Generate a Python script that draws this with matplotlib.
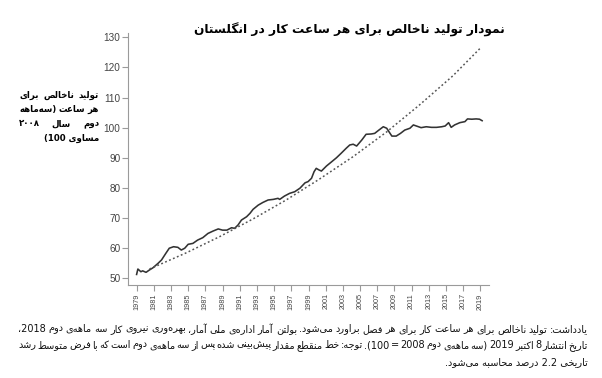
import re
import matplotlib
matplotlib.use('Agg')
import matplotlib.pyplot as plt

# output per hour, quarterly (Q2 2008 = 100)
years = [1979.0, 1979.15, 1979.5, 1979.7, 1980.1, 1980.5, 1980.9, 1981.5, 1981.9, 1982.4,
         1982.8, 1983.3, 1983.8, 1984.2, 1984.6, 1985.0, 1985.55, 1986.1, 1986.7, 1987.3,
         1987.9, 1988.5, 1989.0, 1989.5, 1990.05, 1990.4, 1990.8, 1991.2, 1991.8, 1992.2,
         1992.55, 1993.15, 1993.7, 1994.3, 1994.9, 1995.45, 1995.65, 1996.2, 1996.8, 1997.4,
         1998.0, 1998.6, 1998.95, 1999.35, 1999.65, 1999.9, 2000.2, 2000.5, 2001.1, 2001.7,
         2002.25, 2002.8, 2003.4, 2003.8, 2004.2, 2004.6, 2005.2, 2005.7, 2006.3, 2006.7,
         2007.1, 2007.7, 2008.1, 2008.35, 2008.7, 2009.2, 2009.7, 2010.2, 2010.8, 2011.2,
         2011.55, 2012.1, 2012.7, 2013.3, 2013.9, 2014.5, 2014.9, 2015.3, 2015.6, 2016.0,
         2016.6, 2017.2, 2017.5, 2018.0, 2018.5, 2018.9, 2019.2]
output_per_hour = [51.3, 53.1, 52.2, 52.5, 52.0, 52.8, 53.5, 55.0, 56.1, 58.3,
                   60.0, 60.5, 60.3, 59.4, 60.0, 61.3, 61.6, 62.7, 63.5, 64.9,
                   65.7, 66.4, 66.0, 66.0, 66.8, 66.6, 67.7, 69.35, 70.45, 71.6,
                   72.9, 74.3, 75.2, 76.0, 76.2, 76.55, 76.2, 77.3, 78.2, 78.75,
                   79.9, 81.7, 82.1, 83.2, 85.4, 86.5, 86.0, 85.6, 87.3, 88.7,
                   90.0, 91.5, 93.2, 94.25, 94.5, 93.9, 95.9, 97.8, 97.9, 98.1,
                   99.0, 100.3, 99.8, 98.7, 97.2, 97.2, 98.1, 99.2, 99.8, 100.9,
                   100.55, 100.0, 100.3, 100.1, 100.1, 100.3, 100.55, 101.65, 100.1, 100.9,
                   101.65, 102.0, 102.9, 102.8, 102.9, 102.8, 102.3]

# dotted trend line (2.2% historical growth)
trend_years = [1980.5, 1984.8, 1988.7, 1992.6, 1996.4, 2000.2, 2004.2, 2008.1, 2011.9, 2015.8, 2019.1]
trend_values = [53.1, 58.5, 63.9, 69.8, 76.0, 82.8, 90.4, 98.6, 107.5, 117.2, 126.7]

tick_years = list(range(1979, 2020, 2))
y_ticks = list(range(50, 131, 10))

title = 'نمودار تولید ناخالص برای هر ساعت کار در انگلستان'
ylabel_lines = ['تولید ناخالص برای', 'هر ساعت (سه‌ماهه', 'دوم سال ۲۰۰۸', 'مساوی 100)']
note_lines = [
    'یادداشت: تولید ناخالص برای هر ساعت کار برای هر فصل براورد می‌شود. بولتن آمار اداره‌ی ملی آمار، بهره‌وری نیروی کار سه ماهه‌ی دوم 2018،',
    'تاریخ انتشار 8 اکتبر 2019 (سه ماهه‌ی دوم 2008 = 100). توجه: خط منقطع مقدار پیش‌بینی شده پس از سه ماهه‌ی دوم است که با فرض متوسط رشد',
    'تاریخی 2.2 درصد محاسبه می‌شود.',
]

# presentation forms: isolated, final, initial, medial (None = does not join forward)
FORMS = {
    'ا': (0xFE8D, 0xFE8E, None, None), 'آ': (0xFE81, 0xFE82, None, None),
    'ب': (0xFE8F, 0xFE90, 0xFE91, 0xFE92), 'پ': (0xFB56, 0xFB57, 0xFB58, 0xFB59),
    'ت': (0xFE95, 0xFE96, 0xFE97, 0xFE98), 'ث': (0xFE99, 0xFE9A, 0xFE9B, 0xFE9C),
    'ج': (0xFE9D, 0xFE9E, 0xFE9F, 0xFEA0), 'چ': (0xFB7A, 0xFB7B, 0xFB7C, 0xFB7D),
    'ح': (0xFEA1, 0xFEA2, 0xFEA3, 0xFEA4), 'خ': (0xFEA5, 0xFEA6, 0xFEA7, 0xFEA8),
    'د': (0xFEA9, 0xFEAA, None, None), 'ذ': (0xFEAB, 0xFEAC, None, None),
    'ر': (0xFEAD, 0xFEAE, None, None), 'ز': (0xFEAF, 0xFEB0, None, None),
    'ژ': (0xFB8A, 0xFB8B, None, None),
    'س': (0xFEB1, 0xFEB2, 0xFEB3, 0xFEB4), 'ش': (0xFEB5, 0xFEB6, 0xFEB7, 0xFEB8),
    'ص': (0xFEB9, 0xFEBA, 0xFEBB, 0xFEBC), 'ض': (0xFEBD, 0xFEBE, 0xFEBF, 0xFEC0),
    'ط': (0xFEC1, 0xFEC2, 0xFEC3, 0xFEC4), 'ظ': (0xFEC5, 0xFEC6, 0xFEC7, 0xFEC8),
    'ع': (0xFEC9, 0xFECA, 0xFECB, 0xFECC), 'غ': (0xFECD, 0xFECE, 0xFECF, 0xFED0),
    'ف': (0xFED1, 0xFED2, 0xFED3, 0xFED4), 'ق': (0xFED5, 0xFED6, 0xFED7, 0xFED8),
    'ک': (0xFB8E, 0xFB8F, 0xFB90, 0xFB91), 'گ': (0xFB92, 0xFB93, 0xFB94, 0xFB95),
    'ل': (0xFEDD, 0xFEDE, 0xFEDF, 0xFEE0), 'م': (0xFEE1, 0xFEE2, 0xFEE3, 0xFEE4),
    'ن': (0xFEE5, 0xFEE6, 0xFEE7, 0xFEE8), 'ه': (0xFEE9, 0xFEEA, 0xFEEB, 0xFEEC),
    'و': (0xFEED, 0xFEEE, None, None), 'ی': (0xFBFC, 0xFBFD, 0xFBFE, 0xFBFF),
}
MIRROR = {'(': ')', ')': '('}


def shape(s):
    out = []
    for i, ch in enumerate(s):
        if ch not in FORMS:
            if ch != '\u200c':
                out.append(ch)
            continue
        prev = s[i - 1] if i else ''
        nxt = s[i + 1] if i + 1 < len(s) else ''
        a = prev in FORMS and FORMS[prev][2] is not None
        b = nxt in FORMS and FORMS[ch][2] is not None
        iso, fin, ini, med = FORMS[ch]
        out.append(chr(med if a and b else fin if a else ini if b else iso))
    return ''.join(out)


def visual(s):
    tokens = re.findall(r'[0-9\u06f0-\u06f9]+(?:\.[0-9]+)*|.', shape(s))
    return ''.join(MIRROR.get(t, t) for t in reversed(tokens))


def justified(fig, line, x0, x1, y, justify=True, **kw):
    # x0, x1, y in pixels from top-left
    W, H = fig.bbox.width, fig.bbox.height
    words = visual(line).split(' ')
    if not justify or len(words) < 2:
        fig.text(x1 / W, 1 - y / H, ' '.join(words), ha='right', va='center', **kw)
        return
    r = fig.canvas.get_renderer()
    texts = [fig.text(0, 1 - y / H, w, ha='left', va='center', **kw) for w in words]
    widths = [t.get_window_extent(r).width for t in texts]
    gap = (x1 - x0 - sum(widths)) / (len(words) - 1)
    pos = x0
    for t, w in zip(texts, widths):
        t.set_x(pos / W)
        pos += w + gap


fig = plt.figure(figsize=(6.02, 3.78), dpi=100)
ax = fig.add_axes([128 / 602, 1 - 285 / 378, (489 - 128) / 602, (285 - 33) / 378])

ax.plot(years, output_per_hour, color='#333333', lw=1.15)
ax.plot(trend_years, trend_values, color='#555555', lw=1.1, ls=(0, (1.2, 1.6)))

ax.set_xlim(1978, 2020)
ax.set_ylim(47.8, 131.4)
ax.set_xticks(tick_years)
ax.set_xticklabels([str(y) for y in tick_years], rotation=90, fontsize=5.2,
                   family='Liberation Sans', color='#444444')
ax.set_yticks(y_ticks)
ax.set_yticklabels([str(v) for v in y_ticks], fontsize=7.2,
                   family='Liberation Sans', color='#444444')
for side in ['top', 'right']:
    ax.spines[side].set_visible(False)
for side in ['left', 'bottom']:
    ax.spines[side].set_color('#9a9a9a')
    ax.spines[side].set_linewidth(0.8)
ax.tick_params(colors='#9a9a9a', length=4, width=0.8, labelcolor='#444444')
ax.tick_params(axis='x', pad=2)
ax.tick_params(axis='y', pad=1.5)

fig.text(349 / 602, 1 - 30 / 378, visual(title), ha='center', va='center',
         fontsize=8.8, weight='bold', family='DejaVu Sans')

for i, line in enumerate(ylabel_lines):
    justified(fig, line, 19, 99, 95 + i * 14.5, justify=i < 3,
              fontsize=6.2, weight='bold', family='DejaVu Sans')

for i, line in enumerate(note_lines):
    justified(fig, line, 18, 588, 329 + i * 16.5, justify=i < 2,
              fontsize=7, family='DejaVu Sans', color='#111111')

fig.savefig('out.png', dpi=100)
